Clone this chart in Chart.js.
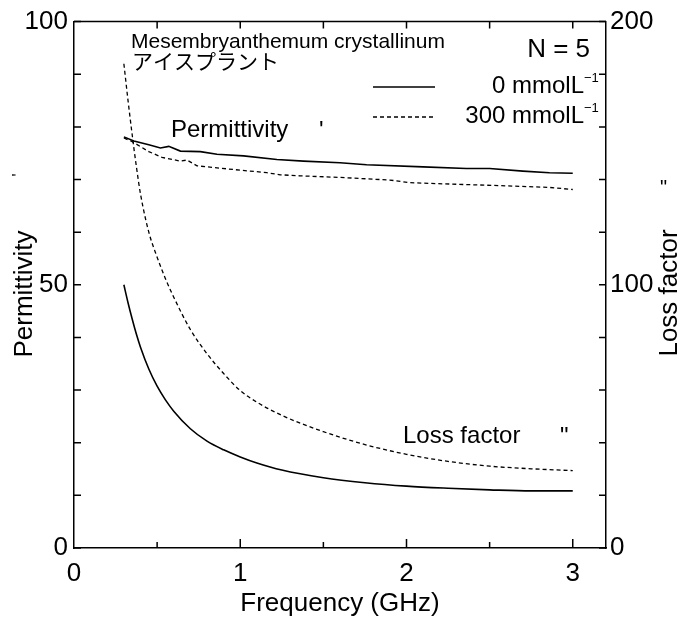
<!DOCTYPE html>
<html>
<head>
<meta charset="utf-8">
<script src="https://cdn.jsdelivr.net/npm/chart.js@4/dist/chart.umd.min.js"></script>
<style>
  html, body { margin: 0; padding: 0; background: #fff; }
  canvas { display: block; }
</style>
</head>
<body>
<canvas id="chart" width="682" height="621"></canvas>
<script>
// Loss factor curves (right axis)
const lossFreq = [0.30, 0.325, 0.35, 0.375, 0.40, 0.45, 0.50, 0.55, 0.60, 0.70, 0.80, 0.90, 1.00, 1.10, 1.25, 1.50, 1.75, 2.00, 2.25, 2.50, 2.75, 3.00];
const loss0 = [100, 93.2, 87, 81.3, 76.3, 68.0, 61.5, 56.3, 52.0, 45.3, 40.6, 37.3, 34.6, 32.3, 29.6, 26.7, 24.8, 23.5, 22.7, 22.1, 21.7, 21.7];
const loss300 = [184, 170, 157, 145, 134.5, 120.0, 110.5, 102.3, 95.3, 83.0, 73.8, 66.3, 59.8, 55.4, 50.4, 44.2, 39.3, 35.6, 32.9, 31.1, 30.1, 29.4];

// Permittivity curves (left axis)
const permFreq0 = [0.30, 0.36, 0.45, 0.52, 0.57, 0.64, 0.76, 0.86, 1.02, 1.22, 1.38, 1.60, 1.76, 2.10, 2.36, 2.50, 2.70, 2.86, 3.00];
const perm0 = [78.1, 77.3, 76.6, 76.0, 76.3, 75.4, 75.3, 74.8, 74.5, 73.8, 73.5, 73.2, 72.8, 72.4, 72.1, 72.1, 71.6, 71.3, 71.2];
const permFreq300 = [0.30, 0.35, 0.45, 0.53, 0.64, 0.68, 0.74, 0.96, 1.16, 1.24, 1.36, 1.60, 1.90, 2.02, 2.30, 2.60, 2.86, 3.00];
const perm300 = [77.9, 77.2, 75.3, 74.2, 73.5, 73.7, 72.6, 71.9, 71.3, 70.9, 70.7, 70.4, 69.9, 69.4, 69.1, 68.8, 68.5, 68.1];

// Ticks
const xTicks = [0, 0.5, 1, 1.5, 2, 2.5, 3];
const xLabelValues = [0, 1, 2, 3];
const permTicks = [0, 10, 20, 30, 40, 50, 60, 70, 80, 90, 100];
const permLabelValues = [0, 50, 100];
const lossTicks = [0, 20, 40, 60, 80, 100, 120, 140, 160, 180, 200];
const lossLabelValues = [0, 100, 200];

const seriesNames = ['0 mmolL', '300 mmolL'];

const FONT = '"Liberation Sans", Arial, Helvetica, sans-serif';
const CJK = '"Noto Sans CJK JP", "Noto Sans CJK SC", sans-serif';
const DASH = [4, 3];

Chart.defaults.font.family = FONT;
Chart.defaults.color = '#000';

const toPoints = (xs, ys) => xs.map((x, i) => ({ x: x, y: ys[i] }));

const setTicks = (values) => (scale) => {
    scale.ticks = values.map(v => ({ value: v }));
};

const drawText = (ctx, str, x, y, size, align = 'left', baseline = 'alphabetic', family = FONT) => {
    ctx.font = `${size}px ${family}`;
    ctx.textAlign = align;
    ctx.textBaseline = baseline;
    ctx.fillText(str, x, y);
};

const drawRotated = (ctx, str, x, y, size) => {
    ctx.save();
    ctx.translate(x, y);
    ctx.rotate(-Math.PI / 2);
    drawText(ctx, str, 0, 0, size, 'center', 'alphabetic');
    ctx.restore();
};

// Frame, inward ticks, legend and notes
const framePlugin = {
    id: 'framePlugin',
    afterDraw(chart) {
        const { ctx, chartArea: { left, right, top, bottom }, scales } = chart;
        ctx.save();
        ctx.strokeStyle = '#000';
        ctx.fillStyle = '#000';
        ctx.lineWidth = 1.5;

        ctx.beginPath();
        ctx.moveTo(left, top);
        ctx.lineTo(right, top);
        ctx.stroke();

        ctx.beginPath();
        xTicks.forEach(v => {
            if (v === 0) return;
            const px = scales.x.getPixelForValue(v);
            const len = xLabelValues.includes(v) ? 9 : 6;
            ctx.moveTo(px, bottom);
            ctx.lineTo(px, bottom - len);
            ctx.moveTo(px, top);
            ctx.lineTo(px, top + 7);
        });
        permTicks.forEach(v => {
            const py = scales.y.getPixelForValue(v);
            ctx.moveTo(left, py);
            ctx.lineTo(left + 7, py);
        });
        lossTicks.forEach(v => {
            const py = scales.y1.getPixelForValue(v);
            ctx.moveTo(right, py);
            ctx.lineTo(right - 7, py);
        });
        ctx.stroke();

        // legend samples
        const ds = chart.data.datasets;
        ctx.lineWidth = ds[0].borderWidth;
        ctx.setLineDash([]);
        ctx.beginPath();
        ctx.moveTo(373, 87);
        ctx.lineTo(435, 87);
        ctx.stroke();
        ctx.lineWidth = ds[1].borderWidth;
        ctx.setLineDash(ds[1].borderDash);
        ctx.beginPath();
        ctx.moveTo(373, 117);
        ctx.lineTo(434, 117);
        ctx.stroke();
        ctx.setLineDash([]);

        drawText(ctx, seriesNames[0], 584, 93, 24, 'right');
        drawText(ctx, '\u22121', 584, 82, 13);
        drawText(ctx, seriesNames[1], 584, 123, 24, 'right');
        drawText(ctx, '\u22121', 584, 112, 13);

        drawText(ctx, 'Mesembryanthemum crystallinum', 131, 48, 21);
        drawText(ctx, 'アイスプラント', 132, 61, 21, 'left', 'middle', CJK);
        drawText(ctx, 'N = 5', 590, 57, 26, 'right');

        drawText(ctx, 'Permittivity', 171, 137, 24);
        drawText(ctx, "'", 319, 138, 24);
        drawText(ctx, 'Loss factor', 403, 443, 24);
        drawText(ctx, '"', 560, 444, 24);
        drawText(ctx, '"', 660, 194, 20);

        // axis titles
        drawRotated(ctx, 'Permittivity', 32, 294, 26);
        drawRotated(ctx, "'", 24, 175, 16);
        drawRotated(ctx, 'Loss factor', 677, 293, 26);

        ctx.restore();
    }
};

const context = document.getElementById('chart').getContext('2d');

const chart = new Chart(context, {
    type: 'line',
    data: {
        datasets: [
            {
                label: 'Permittivity 0',
                data: toPoints(permFreq0, perm0),
                yAxisID: 'y',
                borderColor: '#000',
                borderWidth: 1.6,
                pointRadius: 0,
                tension: 0
            },
            {
                label: 'Permittivity 300',
                data: toPoints(permFreq300, perm300),
                yAxisID: 'y',
                borderColor: '#000',
                borderWidth: 1.3,
                borderDash: DASH,
                pointRadius: 0,
                tension: 0
            },
            {
                label: 'Loss factor 0',
                data: toPoints(lossFreq, loss0),
                yAxisID: 'y1',
                borderColor: '#000',
                borderWidth: 1.6,
                pointRadius: 0,
                cubicInterpolationMode: 'monotone'
            },
            {
                label: 'Loss factor 300',
                data: toPoints(lossFreq, loss300),
                yAxisID: 'y1',
                borderColor: '#000',
                borderWidth: 1.3,
                borderDash: DASH,
                pointRadius: 0,
                cubicInterpolationMode: 'monotone'
            }
        ]
    },
    options: {
        responsive: false,
        animation: false,
        devicePixelRatio: 1,
        layout: { padding: { top: 18, left: 0, right: 0, bottom: 0 } },
        plugins: {
            legend: { display: false },
            tooltip: { enabled: false }
        },
        scales: {
            x: {
                type: 'linear',
                position: 'bottom',
                min: 0,
                max: 3.2,
                afterBuildTicks: setTicks(xTicks),
                afterFit: (scale) => { scale.height = 73; },
                grid: { display: false, drawTicks: false },
                border: { display: true, color: '#000', width: 1.5 },
                ticks: {
                    autoSkip: false,
                    maxRotation: 0,
                    padding: 10,
                    color: '#000',
                    font: { size: 26 },
                    callback: (v) => xLabelValues.includes(v) ? String(v) : ''
                },
                title: {
                    display: true,
                    text: 'Frequency (GHz)',
                    color: '#000',
                    font: { size: 26 },
                    padding: { top: 0, bottom: 2 }
                }
            },
            y: {
                type: 'linear',
                position: 'left',
                min: 0,
                max: 100,
                afterBuildTicks: setTicks(permTicks),
                afterFit: (scale) => { scale.width = 74; },
                grid: { display: false, drawTicks: false },
                border: { display: true, color: '#000', width: 1.5 },
                ticks: {
                    autoSkip: false,
                    padding: 6,
                    color: '#000',
                    font: { size: 26 },
                    callback: (v) => permLabelValues.includes(v) ? String(v) : ''
                }
            },
            y1: {
                type: 'linear',
                position: 'right',
                min: 0,
                max: 200,
                afterBuildTicks: setTicks(lossTicks),
                afterFit: (scale) => { scale.width = 76; },
                grid: { display: false, drawTicks: false },
                border: { display: true, color: '#000', width: 1.5 },
                ticks: {
                    autoSkip: false,
                    padding: 4,
                    color: '#000',
                    font: { size: 26 },
                    callback: (v) => lossLabelValues.includes(v) ? String(v) : ''
                }
            }
        }
    },
    plugins: [framePlugin]
});
</script>
</body>
</html>
